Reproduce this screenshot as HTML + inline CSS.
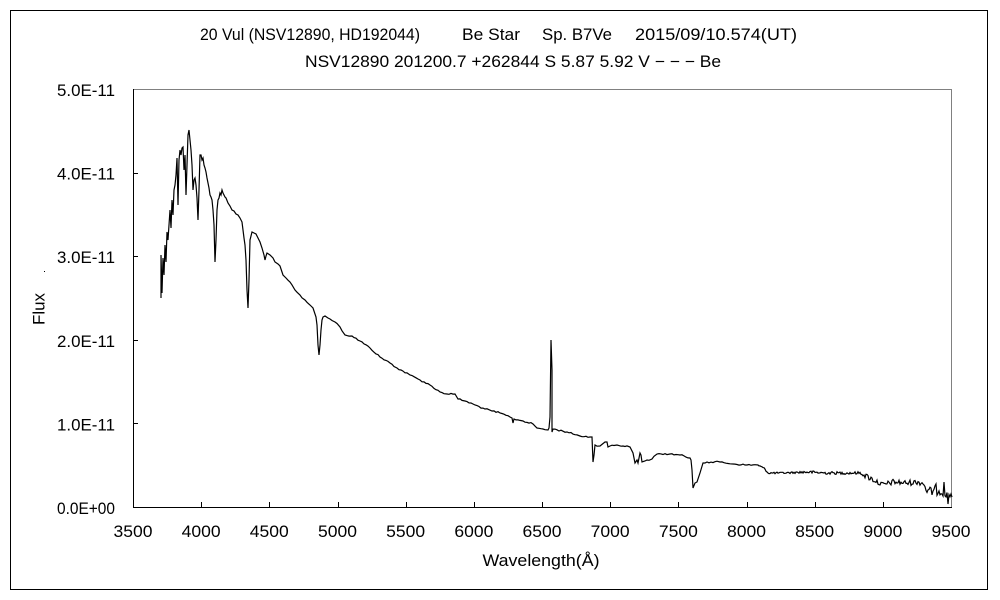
<!DOCTYPE html>
<html>
<head>
<meta charset="utf-8">
<style>
html,body{margin:0;padding:0;background:#fff;}
svg{display:block;}
text{font-family:"Liberation Sans","IPAGothic",sans-serif;fill:#000;}
</style>
</head>
<body>
<svg id="s" width="1000" height="600" viewBox="0 0 1000 600" xmlns="http://www.w3.org/2000/svg">
<rect x="0" y="0" width="1000" height="600" fill="#fff"/>
<rect x="10.5" y="10.5" width="977" height="579" fill="none" stroke="#000" stroke-width="1"/>

<!-- titles -->
<text x="200" y="40" font-size="16.5" textLength="220" lengthAdjust="spacingAndGlyphs">20 Vul (NSV12890, HD192044)</text>
<text x="462" y="40" font-size="16.5" textLength="58" lengthAdjust="spacingAndGlyphs">Be Star</text>
<text x="542" y="40" font-size="16.5" textLength="70" lengthAdjust="spacingAndGlyphs">Sp. B7Ve</text>
<text x="635" y="40" font-size="16.5" textLength="162" lengthAdjust="spacingAndGlyphs">2015/09/10.574(UT)</text>
<text x="305" y="67" font-size="16.5" textLength="416" lengthAdjust="spacingAndGlyphs">NSV12890 201200.7 +262844 S 5.87 5.92 V − − − Be</text>

<!-- plot frame -->
<line x1="133" y1="89.5" x2="951.5" y2="89.5" stroke="#808080" stroke-width="1"/>
<line x1="951.5" y1="89" x2="951.5" y2="507" stroke="#808080" stroke-width="1"/>
<line x1="133.5" y1="89" x2="133.5" y2="507.5" stroke="#000" stroke-width="1"/>
<line x1="133" y1="507.5" x2="952" y2="507.5" stroke="#000" stroke-width="1"/>

<g id="ticks" stroke="#000" stroke-width="1"></g>
<g id="labels"></g>

<text x="541" y="566" font-size="16.5" text-anchor="middle" textLength="117" lengthAdjust="spacingAndGlyphs">Wavelength(Å)</text>
<text transform="translate(44.5,309) rotate(-90)" font-size="16.5" text-anchor="middle" textLength="32" lengthAdjust="spacingAndGlyphs">Flux</text>
<rect x="44" y="271" width="1" height="1" fill="#000"/>

<path id="spec" fill="none" stroke="#000" stroke-width="1.2" stroke-linejoin="miter"/>
</svg>
<script>
(function(){
var NS="http://www.w3.org/2000/svg";
var ticks=document.getElementById("ticks");
var labels=document.getElementById("labels");
function el(tag,attrs,txt,parent){var e=document.createElementNS(NS,tag);for(var k in attrs)e.setAttribute(k,attrs[k]);if(txt!=null)e.textContent=txt;parent.appendChild(e);return e;}
var ylab=["0.0E+00","1.0E-11","2.0E-11","3.0E-11","4.0E-11","5.0E-11"];
for(var i=0;i<=5;i++){
  var y=507-i*83.6;
  if(i>0&&i<5) el("line",{x1:133,y1:(Math.round(y)+0.5),x2:138,y2:(Math.round(y)+0.5)},null,ticks);
  el("text",{x:115,y:(y+7).toFixed(1),"font-size":"16.5","text-anchor":"end",textLength:"58",lengthAdjust:"spacingAndGlyphs"},ylab[i],labels);
}
for(var j=0;j<=12;j++){
  var x=133+j*68.17;
  if(j>0&&j<12) el("line",{x1:(Math.round(x)+0.5),y1:507,x2:(Math.round(x)+0.5),y2:502},null,ticks);
  el("text",{x:x.toFixed(1),y:537,"font-size":"16.5","text-anchor":"middle",textLength:"39",lengthAdjust:"spacingAndGlyphs"},String(3500+j*500),labels);
}
var P=[161,298,161,255,162,293,163,258,164,275,165,245,166,262,167,232,168,240,169,225,170,210,171,228,172,200,173,215,174,190,175,185,176,175,177,158,178,205,179,160,180,150,181,155,182,148,183,147,184,170,185,155,186,195,187,165,188,135,189,130,190,140,191,150,192,165,193,190,194,180,195,178,196,185,197,198,198,220,199,190,200,155,201,155,202,160,203,158,204,165,205,168,206,172,207,178,208,183,209,188,210,195,211,197,212,200,213,210,214,225,215,262,216,240,217,210,218,200,219,198,220,193,221,195,222,190,223,193,224,195,225,197,226,198,228,203,230,206,232,210,234,211,236,214,238,215,240,218,242,222,243,230,244,238,245,245,246,260,247,290,248,308,249,280,250,240,251,236,252,232,254,233,256,234,258,238,260,242,262,248,264,255,265,260,266,256,267,253,270,255,273,258,275,262,278,264,280,266,283,275,286,278,290,282,295,290,300,295,305,300,310,305,313,308,316,317,317,325,318,345,319,355,320,345,321,330,322,320,323,317,325,316,328,318,330,319,335,322,340,327,345,335,352,336,360,341,370,348,380,357,390,363,397,368,410,375,420,380,430,385,440,392,447,394,455,394,458,399,465,401,475,405,485,409,492,411,500,413,510,417,512,418,513,423,514,419,523,421,533,424,537,428,543,429,548,430,549,428,550,417,551,340,552,370,552,418,552,432,553,429,567,432,580,436,590,437,592,437,593,462,594,455,595,445,600,446,605,442,607,442,608,447,610,446,617,445,630,447,633,453,635,463,637,460,638,463,640,453,641,455,642,462,645,461,647,460,652,459,657,454,670,454,680,455,690,458,691,460,692,470,693,488,695,483,697,482,700,473,703,463,707,462,720,462,733,464,747,465,758,465];
var N=[758,465,765,469,768,473,783,473,807,472,827,473,847,473,860,473,870,478,883,485,893,482,907,483,917,482,923,483,928,492,940,490,948,497,952,493];
var seed=12345;
function rnd(){seed=(seed*1103515245+12345)%2147483648;return seed/2147483648;}
var d="M"+P[0]+" "+P[1];
for(var i=2;i<P.length;i+=2){
  var x0=P[i-2],y0=P[i-1],x1=P[i],y1=P[i+1];
  if(x0>=252 && x1-x0>=4){
    for(var xx=x0+2;xx<x1-1;xx+=2){
      var t=(xx-x0)/(x1-x0);
      var yy=y0+t*(y1-y0)+0.8*(rnd()*2-1);
      d+=" L"+xx+" "+yy.toFixed(1);
    }
  }
  d+=" L"+x1+" "+y1;
}
function base(x){for(var k=0;k<N.length-2;k+=2){if(x>=N[k]&&x<=N[k+2]){var t=(x-N[k])/(N[k+2]-N[k]);return N[k+1]+t*(N[k+3]-N[k+1]);}}return N[N.length-1];}
function amp(x){if(x<800)return 0.9;if(x<865)return 1.4;if(x<925)return 2.8;return 5;}
for(var x=759;x<=952;x++){
  var y=base(x)+amp(x)*(rnd()*2-1);
  if(x===948) y=504;
  if(x===944) y=482;
  if(x===936) y=484;
  d+=" L"+x+" "+y.toFixed(1);
}
document.getElementById("spec").setAttribute("d",d);
})();
</script>
</body>
</html>
